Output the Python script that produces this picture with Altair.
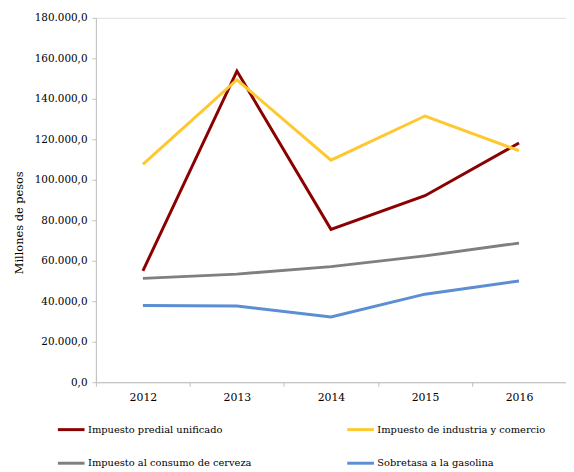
import altair as alt
import pandas as pd

years = ["2012", "2013", "2014", "2015", "2016"]
series_names = [
    "Impuesto predial unificado",
    "Impuesto de industria y comercio",
    "Impuesto al consumo de cerveza",
    "Sobretasa a la gasolina",
]
predial = [55000, 153700, 75500, 92100, 118200]
industria = [107600, 149400, 109700, 131500, 114400]
cerveza = [51300, 53400, 57100, 62400, 68700]
gasolina = [37900, 37600, 32200, 43500, 50000]
colors = ["#8B0000", "#FFC82E", "#7F7F7F", "#5B8ED2"]
y_ticks = [0, 20000, 40000, 60000, 80000, 100000, 120000, 140000, 160000, 180000]

rows = []
for name, vals in zip(series_names, [predial, industria, cerveza, gasolina]):
    for i, (yr, v) in enumerate(zip(years, vals)):
        rows.append({"year": yr, "value": v, "serie": name, "order": i})
df = pd.DataFrame(rows)

FONT = "DejaVu Serif"

chart = alt.Chart(df).mark_line(strokeWidth=3).encode(
    x=alt.X(
        "year:N",
        sort=years,
        title=None,
        scale=alt.Scale(paddingInner=0, paddingOuter=0),
        axis=alt.Axis(
            labelAngle=0,
            tickBand="extent",
            tickSize=4,
            labelPadding=6,
            labelFontSize=11,
            labelFont=FONT,
            labelColor="#000000",
            domainColor="#BFBFBF",
            tickColor="#BFBFBF",
            grid=False,
        ),
    ),
    y=alt.Y(
        "value:Q",
        scale=alt.Scale(domain=[0, 180000], nice=False),
        title="Millones  de pesos",
        axis=alt.Axis(
            values=y_ticks,
            labelExpr="datum.value > 0 ? format(datum.value / 1000, 'd') + '.000,0' : '0,0'",
            tickSize=4,
            labelPadding=5,
            labelFontSize=10.5,
            labelFont=FONT,
            labelColor="#000000",
            domainColor="#BFBFBF",
            tickColor="#BFBFBF",
            grid=False,
            titleFont=FONT,
            titleFontSize=11.5,
            titleFontWeight="normal",
            titleColor="#000000",
            titleAngle=-90,
            titleX=-77,
            titleY=207,
            titleAlign="center",
            titleBaseline="middle",
        ),
    ),
    color=alt.Color(
        "serie:N",
        sort=series_names,
        scale=alt.Scale(domain=series_names, range=colors),
        legend=alt.Legend(
            title=None,
            orient="none",
            direction="horizontal",
            legendX=-40,
            legendY=402,
            columns=2,
            columnPadding=90,
            rowPadding=13,
            symbolType="stroke",
            symbolSize=729,
            symbolStrokeWidth=3,
            labelOffset=2,
            labelFont=FONT,
            labelFontSize=10,
            labelColor="#000000",
            labelLimit=400,
        ),
    ),
    order="order:Q",
).properties(
    width=476,
    height=369,
    autosize=alt.AutoSizeParams(type="none"),
    padding={"left": 89, "top": 7, "right": 0, "bottom": 90},
).configure_view(stroke=None).configure(background="white", font=FONT)

chart.save("out.html", embed_options={"renderer": "svg", "actions": False})
